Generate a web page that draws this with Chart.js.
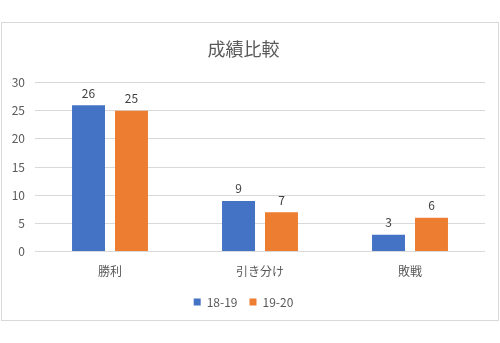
<!DOCTYPE html>
<html>
<head>
<meta charset="utf-8">
<script src="https://cdn.jsdelivr.net/npm/chart.js@4"></script>
<style>
    html, body { margin: 0; padding: 0; background: #fff; }
    .box {
        position: absolute; left: 1px; top: 22px;
        width: 496px; height: 297px;
        border: 1px solid #d9d9d9;
    }
</style>
</head>
<body>
<div class="box"><canvas id="barChart" width="496" height="297"></canvas></div>
<script>
const categories = ['勝利', '引き分け', '敗戦'];
const season1819 = [26, 9, 3];
const season1920 = [25, 7, 6];
const yTicks = [0, 5, 10, 15, 20, 25, 30];

const fontFamily = "'Noto Sans CJK JP', 'Open Sans', sans-serif";

// draw the value above each bar
const barValues = {
    id: 'barValues',
    afterDatasetsDraw(chart) {
        const ctx = chart.ctx;
        ctx.save();
        ctx.font = '12px ' + fontFamily;
        ctx.fillStyle = '#404040';
        ctx.textAlign = 'center';
        ctx.textBaseline = 'bottom';
        chart.data.datasets.forEach((ds, i) => {
            chart.getDatasetMeta(i).data.forEach((bar, j) => {
                ctx.fillText(ds.data[j], bar.x, bar.y - 6);
            });
        });
        ctx.restore();
    }
};

const ctxBar = document.getElementById('barChart');
new Chart(ctxBar, {
    type: 'bar',
    data: {
        labels: categories,
        datasets: [
            { label: '18-19', data: season1819, backgroundColor: '#4472C4' },
            { label: '19-20', data: season1920, backgroundColor: '#ED7D31' }
        ]
    },
    options: {
        responsive: false,
        animation: false,
        categoryPercentage: 0.573,
        barPercentage: 0.767,
        layout: { padding: { left: 0, right: 13, top: 0, bottom: 2 } },
        plugins: {
            title: {
                display: true, text: '成績比較', color: '#595959',
                font: { family: fontFamily, size: 18, weight: 'normal' },
                padding: { top: 15, bottom: 23 }
            },
            legend: {
                position: 'bottom',
                labels: {
                    color: '#595959', boxWidth: 7, boxHeight: 7,
                    font: { family: fontFamily, size: 12 },
                    padding: 12
                }
            },
            tooltip: { enabled: false }
        },
        scales: {
            x: {
                grid: { display: false },
                border: { display: false },
                ticks: { color: '#595959', font: { family: fontFamily, size: 12 }, padding: 5 }
            },
            y: {
                min: 0, max: 30,
                afterBuildTicks: (axis) => { axis.ticks = yTicks.map(v => ({ value: v })); },
                afterFit: (axis) => { axis.width = 33; },
                grid: { color: '#d9d9d9', drawTicks: false },
                border: { display: false },
                ticks: { color: '#595959', font: { family: fontFamily, size: 12 }, padding: 10 }
            }
        }
    },
    plugins: [barValues]
});
</script>
</body>
</html>
